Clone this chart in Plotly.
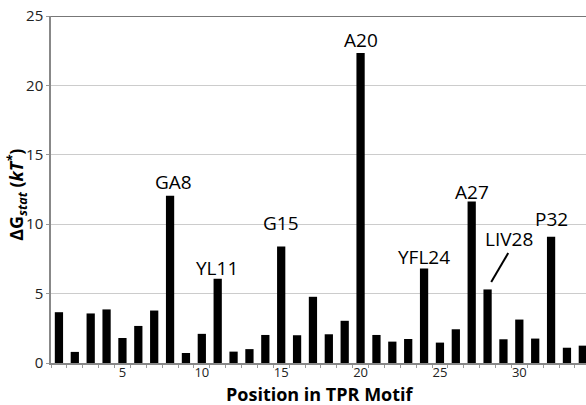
import plotly.graph_objects as go

positions = list(range(1, 35))
dg_stat = [3.66, 0.8, 3.57, 3.86, 1.8, 2.67, 3.78, 12.05, 0.72, 2.1,
           6.07, 0.82, 1.0, 2.02, 8.4, 2.0, 4.77, 2.07, 3.04, 22.34,
           2.02, 1.54, 1.73, 6.8, 1.47, 2.43, 11.64, 5.3, 1.71, 3.13,
           1.76, 9.1, 1.1, 1.25]

label_text = ["GA8", "YL11", "G15", "A20", "YFL24", "A27", "LIV28", "P32"]
label_x = [8.19, 10.96, 15.0, 20.03, 23.98, 27.05, 29.33, 32.0]
label_y = [13.04, 6.84, 10.08, 23.27, 7.64, 12.32, 8.93, 10.37]

x_ticks = [5, 10, 15, 20, 25, 30]
y_ticks = [0, 5, 10, 15, 20, 25]

fig = go.Figure()
fig.add_trace(go.Bar(x=positions, y=dg_stat, width=0.52,
                     marker=dict(color="black", line=dict(width=0))))

for t, x, y in zip(label_text, label_x, label_y):
    fig.add_annotation(x=x, y=y, text=t, showarrow=False,
                       font=dict(family="Open Sans", size=19, color="black"),
                       xanchor="center", yanchor="middle")

# y axis title as rotated annotation
fig.add_annotation(xref="paper", yref="paper", x=-0.034, y=0.484,
                   text="<b>ΔG<sub><i>stat</i></sub> (<i>kT<sup>*</sup></i>)</b>",
                   textangle=-90, showarrow=False,
                   font=dict(family="Open Sans", size=18, color="black"),
                   xanchor="right", yanchor="middle")
# x axis title
fig.add_annotation(xref="paper", yref="paper", x=0.503, y=-0.09,
                   text="<b>Position in TPR Motif</b>", showarrow=False,
                   font=dict(family="Open Sans", size=18, color="black"),
                   xanchor="center", yanchor="middle")

# pointer line for LIV28
fig.add_shape(type="line", x0=29.3, y0=7.92, x1=28.23, y1=5.84,
              line=dict(color="black", width=2))
# top frame line
fig.add_shape(type="line", xref="paper", yref="y", x0=0, x1=1, y0=25, y1=25,
              line=dict(color="#777777", width=2))

fig.update_layout(
    width=586, height=405,
    margin=dict(l=51, r=0, t=16, b=42),
    paper_bgcolor="white", plot_bgcolor="white",
    showlegend=False,
    font=dict(family="Open Sans", color="#222222"),
    xaxis=dict(range=[0.5, 34.2], tickvals=x_ticks, ticks="",
               ticklabelstandoff=-3,
               showgrid=False, zeroline=False,
               showline=True, linecolor="#888888", linewidth=1.5,
               tickfont=dict(size=13, color="#222222"),
               minor=dict(ticks="outside", tick0=0.5, dtick=1, ticklen=3,
                          tickcolor="#999999", showgrid=False)),
    yaxis=dict(range=[0, 25], tickvals=y_ticks, ticks="outside", ticklen=3,
               tickcolor="#999999",
               showgrid=True, gridcolor="#cccccc", gridwidth=1,
               zeroline=False,
               showline=True, linecolor="#888888", linewidth=1.5,
               tickfont=dict(size=15, color="#222222")),
)

fig.write_html("out.html")
